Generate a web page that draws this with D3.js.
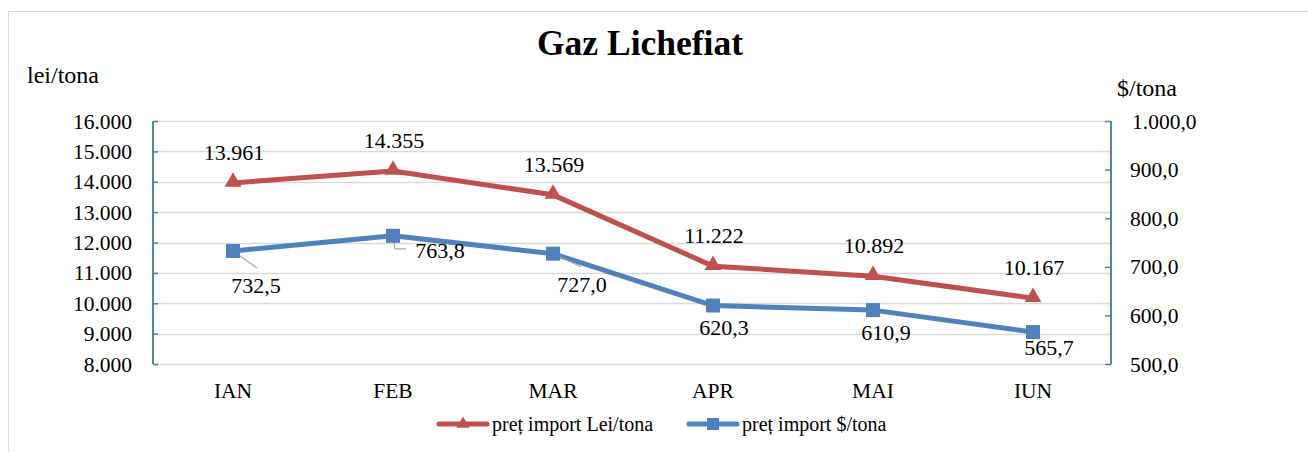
<!DOCTYPE html>
<html>
<head>
<meta charset="utf-8">
<script src="https://cdn.jsdelivr.net/npm/d3@7"></script>
<style>
  body { margin: 0; background: #fff; }
  svg text { font-family: "Liberation Serif", "Times New Roman", serif; fill: #000; }
</style>
</head>
<body>
<svg id="chart" width="1308" height="452"></svg>
<script>
const months = ['IAN', 'FEB', 'MAR', 'APR', 'MAI', 'IUN'];
const leiValues = [13961, 14355, 13569, 11222, 10892, 10167];
const usdValues = [732.5, 763.8, 727.0, 620.3, 610.9, 565.7];
const leiTicks = [8000, 9000, 10000, 11000, 12000, 13000, 14000, 15000, 16000];
const usdTicks = [500, 600, 700, 800, 900, 1000];

// label offsets for the $ series (dx, dy of label centre/baseline from point, leader line)
const usdLabelPlacement = [
  { dx: 23, dy: 42, leader: [[0, 0], [24, 17]] },
  { dx: 47, dy: 22, leader: [[0, 0], [2, 13], [13, 13]] },
  { dx: 29, dy: 38, leader: [[0, 0], [28, 13]] },
  { dx: 11, dy: 29, leader: null },
  { dx: 13, dy: 30, leader: null },
  { dx: 16, dy: 23, leader: null }
];

const red = '#c0504d';
const blue = '#4f81bd';
const grid = '#d9d9d9';

const svg = d3.select('#chart');
const plotLeft = 153, plotRight = 1111, plotTop = 121, plotBottom = 364;

// outer chart border
svg.append('rect')
  .attr('x', 8.5).attr('y', 11.5)
  .attr('width', 1320).attr('height', 460)
  .attr('fill', 'none').attr('stroke', grid);

const x = d3.scaleBand().domain(months).range([plotLeft, plotRight + 2]);
const yLei = d3.scaleLinear().domain([8000, 16000]).range([plotBottom, plotTop]);
const yUsd = d3.scaleLinear().domain([500, 1000]).range([plotBottom, plotTop]);

const fmtLei = (v) => d3.format(',')(v).replace(/,/g, '.');
const fmtUsd = (v) => {
  const s = d3.format(',.1f')(v);
  return s.replace(/,/g, '#').replace('.', ',').replace(/#/g, '.');
};

// gridlines
svg.append('g')
  .selectAll('line')
  .data(leiTicks)
  .enter()
  .append('line')
  .attr('x1', plotLeft).attr('x2', plotRight)
  .attr('y1', (d) => Math.round(yLei(d)) + 0.5)
  .attr('y2', (d) => Math.round(yLei(d)) + 0.5)
  .attr('stroke', grid).attr('stroke-width', 1.4);

// left axis
const leftAxis = svg.append('g')
  .attr('transform', `translate(${plotLeft},0)`)
  .call(d3.axisRight(yLei).tickValues(leiTicks).tickSize(5).tickFormat(''));
leftAxis.select('.domain').attr('stroke', blue).attr('stroke-width', 2).attr('d', `M0,${plotTop}V${plotBottom}`);
leftAxis.selectAll('.tick line').attr('stroke', blue).attr('stroke-width', 1.5);

svg.append('g')
  .selectAll('text')
  .data(leiTicks)
  .enter()
  .append('text')
  .attr('x', 132)
  .attr('y', (d) => yLei(d) + 7.5)
  .attr('text-anchor', 'end')
  .attr('font-size', '21.5px')
  .text(fmtLei);

// right axis
const rightAxis = svg.append('g')
  .attr('transform', `translate(${plotRight},0)`)
  .call(d3.axisLeft(yUsd).tickValues(usdTicks).tickSize(6).tickFormat(''));
rightAxis.select('.domain').attr('stroke', blue).attr('stroke-width', 2).attr('d', `M0,${plotTop}V${plotBottom}`);
rightAxis.selectAll('.tick line').attr('stroke', blue).attr('stroke-width', 1.5);

svg.append('g')
  .selectAll('text')
  .data(usdTicks)
  .enter()
  .append('text')
  .attr('x', (d) => (d === 1000 ? 1132 : 1130))
  .attr('y', (d) => yUsd(d) + 7.5)
  .attr('font-size', '21.5px')
  .text(fmtUsd);

// category labels
svg.append('g')
  .selectAll('text')
  .data(months)
  .enter()
  .append('text')
  .attr('x', (d) => x(d) + x.bandwidth() / 2)
  .attr('y', 398)
  .attr('text-anchor', 'middle')
  .attr('font-size', '21.5px')
  .text((d) => d);

// titles
svg.append('text')
  .attr('x', 640).attr('y', 55)
  .attr('text-anchor', 'middle')
  .attr('font-size', '35.5px')
  .attr('font-weight', 'bold')
  .text('Gaz Lichefiat');
svg.append('text')
  .attr('x', 27).attr('y', 83)
  .attr('font-size', '24px')
  .text('lei/tona');
svg.append('text')
  .attr('x', 1117).attr('y', 96)
  .attr('font-size', '24px')
  .text('$/tona');

const cx = (i) => x(months[i]) + x.bandwidth() / 2;

// lei series
const leiLine = d3.line().x((d, i) => cx(i)).y((d) => yLei(d));
svg.append('path')
  .datum(leiValues)
  .attr('d', leiLine)
  .attr('fill', 'none')
  .attr('stroke', red)
  .attr('stroke-width', 5)
  .attr('stroke-linejoin', 'round');

const triangle = d3.symbol().type(d3.symbolTriangle).size(120);
svg.append('g')
  .selectAll('path')
  .data(leiValues)
  .enter()
  .append('path')
  .attr('d', triangle)
  .attr('transform', (d, i) => `translate(${cx(i)},${yLei(d) - 1})`)
  .attr('fill', red);

svg.append('g')
  .selectAll('text')
  .data(leiValues)
  .enter()
  .append('text')
  .attr('x', (d, i) => cx(i) + 1)
  .attr('y', (d) => yLei(d) - 23)
  .attr('text-anchor', 'middle')
  .attr('font-size', '22px')
  .text(fmtLei);

// usd series
const usdLine = d3.line().x((d, i) => cx(i)).y((d) => yUsd(d));
svg.append('path')
  .datum(usdValues)
  .attr('d', usdLine)
  .attr('fill', 'none')
  .attr('stroke', blue)
  .attr('stroke-width', 5)
  .attr('stroke-linejoin', 'round');

// leader lines
svg.append('g')
  .selectAll('path')
  .data(usdValues.map((v, i) => ({ v, i, p: usdLabelPlacement[i] })).filter((d) => d.p.leader))
  .enter()
  .append('path')
  .attr('d', (d) => d3.line()(d.p.leader.map(([dx, dy]) => [cx(d.i) + dx, yUsd(d.v) + dy])))
  .attr('fill', 'none')
  .attr('stroke', '#a6a6a6')
  .attr('stroke-width', 1.2);

svg.append('g')
  .selectAll('rect')
  .data(usdValues)
  .enter()
  .append('rect')
  .attr('x', (d, i) => cx(i) - 7)
  .attr('y', (d) => yUsd(d) - 7)
  .attr('width', 14)
  .attr('height', 14)
  .attr('fill', blue);

svg.append('g')
  .selectAll('text')
  .data(usdValues)
  .enter()
  .append('text')
  .attr('x', (d, i) => cx(i) + usdLabelPlacement[i].dx)
  .attr('y', (d, i) => yUsd(d) + usdLabelPlacement[i].dy)
  .attr('text-anchor', 'middle')
  .attr('font-size', '22px')
  .text(fmtUsd);

// legend
const legendItems = [
  { label: 'preț import Lei/tona', color: red, shape: 'triangle', x: 437 },
  { label: 'preț import $/tona', color: blue, shape: 'square', x: 687 }
];
const legend = svg.append('g')
  .selectAll('g')
  .data(legendItems)
  .enter()
  .append('g')
  .attr('transform', (d) => `translate(${d.x},424)`);
legend.append('line')
  .attr('x1', 2).attr('x2', 50)
  .attr('stroke', (d) => d.color)
  .attr('stroke-width', 5)
  .attr('stroke-linecap', 'round');
legend.append('path')
  .attr('d', (d) => d.shape === 'triangle'
    ? d3.symbol().type(d3.symbolTriangle).size(75)()
    : 'M-6,-6H6V6H-6Z')
  .attr('transform', 'translate(26,0)')
  .attr('fill', (d) => d.color);
legend.append('text')
  .attr('x', 55)
  .attr('y', 7)
  .attr('font-size', '20px')
  .text((d) => d.label);
</script>
</body>
</html>
